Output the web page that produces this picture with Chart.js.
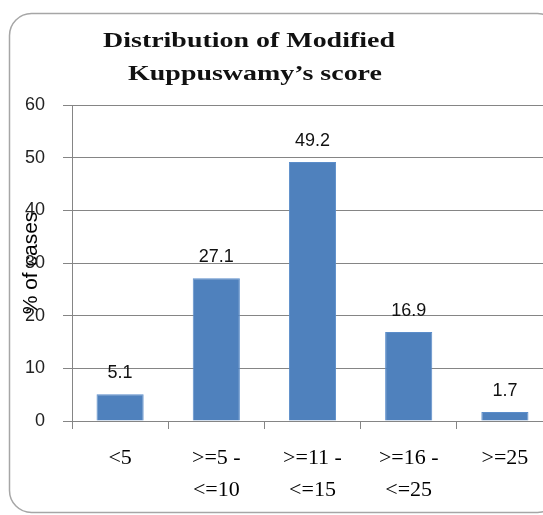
<!DOCTYPE html>
<html>
<head>
<meta charset="utf-8">
<script src="https://cdn.jsdelivr.net/npm/chart.js@4.4.1/dist/chart.umd.min.js"></script>
<style>
  html, body { margin: 0; padding: 0; background: #fff; overflow: hidden; }
  #wrap { position: relative; width: 565px; height: 515px; }
</style>
</head>
<body>
<div id="wrap"><canvas id="chart" width="565" height="515"></canvas></div>
<script>
// Score bands (multi-line category labels)
const categories = [['<5'], ['>=5 -', '<=10'], ['>=11 -', '<=15'], ['>=16 -', '<=25'], ['>=25']];
// Percentage of cases in each band
const percentCases = [5.1, 27.1, 49.2, 16.9, 1.7];
// Y axis range
const yMin = 0, yMax = 60, yStep = 10;
const titleLines = ['Distribution of Modified', 'Kuppuswamy\u2019s score'];
const yTitle = '% of cases';

const GRID = '#858585';

// Rounded frame around the whole chart
const framePlugin = {
  id: 'frame',
  beforeDraw(chart) {
    const ctx = chart.ctx;
    ctx.save();
    ctx.strokeStyle = '#a6a6a6';
    ctx.lineWidth = 1.5;
    ctx.beginPath();
    ctx.roundRect(9.5, 13.5, 550, 499, 22);
    ctx.stroke();
    ctx.restore();
  }
};

// Two-line heading, slightly widened serif
const headingPlugin = {
  id: 'heading',
  afterDraw(chart) {
    const ctx = chart.ctx;
    ctx.save();
    ctx.font = 'bold 22px "Liberation Serif"';
    ctx.fillStyle = '#111';
    ctx.textAlign = 'center';
    ctx.textBaseline = 'alphabetic';
    const centers = [249, 255];
    const baselines = [47, 80];
    titleLines.forEach((t, i) => {
      ctx.save();
      ctx.translate(centers[i], baselines[i]);
      ctx.scale(1.27, 1);
      ctx.fillText(t, 0, 0);
      ctx.restore();
    });
    ctx.restore();
  }
};

// Value written above each bar
const valueLabelPlugin = {
  id: 'valueLabels',
  afterDatasetsDraw(chart) {
    const ctx = chart.ctx;
    const meta = chart.getDatasetMeta(0);
    ctx.save();
    ctx.font = '18px "Liberation Sans"';
    ctx.fillStyle = '#111';
    ctx.textAlign = 'center';
    ctx.textBaseline = 'middle';
    meta.data.forEach((bar, i) => {
      ctx.fillText(percentCases[i].toFixed(1), bar.x, bar.y - 21);
    });
    ctx.restore();
  }
};

new Chart(document.getElementById('chart'), {
  type: 'bar',
  data: {
    labels: categories,
    datasets: [{
      data: percentCases,
      backgroundColor: '#4f81bd',
      borderColor: '#5b8dca',
      borderWidth: 1,
      barPercentage: 0.49,
      categoryPercentage: 1
    }]
  },
  options: {
    responsive: false,
    devicePixelRatio: 1,
    animation: false,
    layout: { padding: { top: 105, right: 12, bottom: 0, left: 0 } },
    plugins: {
      legend: { display: false },
      title: { display: false },
      tooltip: { enabled: false }
    },
    scales: {
      x: {
        offset: true,
        grid: {
          offset: true,
          drawOnChartArea: false,
          drawTicks: true,
          tickLength: 8,
          color: GRID
        },
        border: { display: true, color: GRID, width: 1 },
        ticks: {
          font: { family: '"Liberation Serif"', size: 22, lineHeight: '32px' },
          color: '#000',
          padding: 13,
          maxRotation: 0,
          autoSkip: false
        },
        afterFit(scale) { scale.height = 94; }
      },
      y: {
        min: yMin,
        max: yMax,
        grid: { color: GRID, tickLength: 9, drawTicks: true },
        border: { display: true, color: GRID, width: 1 },
        ticks: {
          stepSize: yStep,
          font: { family: '"Liberation Sans"', size: 18 },
          color: '#222',
          padding: 18
        },
        title: {
          display: true,
          text: yTitle,
          font: { family: '"Liberation Sans"', size: 21 },
          color: '#000',
          padding: { top: 19, bottom: 0 }
        },
        afterFit(scale) { scale.width = 72; }
      }
    }
  },
  plugins: [framePlugin, headingPlugin, valueLabelPlugin]
});
</script>
</body>
</html>
